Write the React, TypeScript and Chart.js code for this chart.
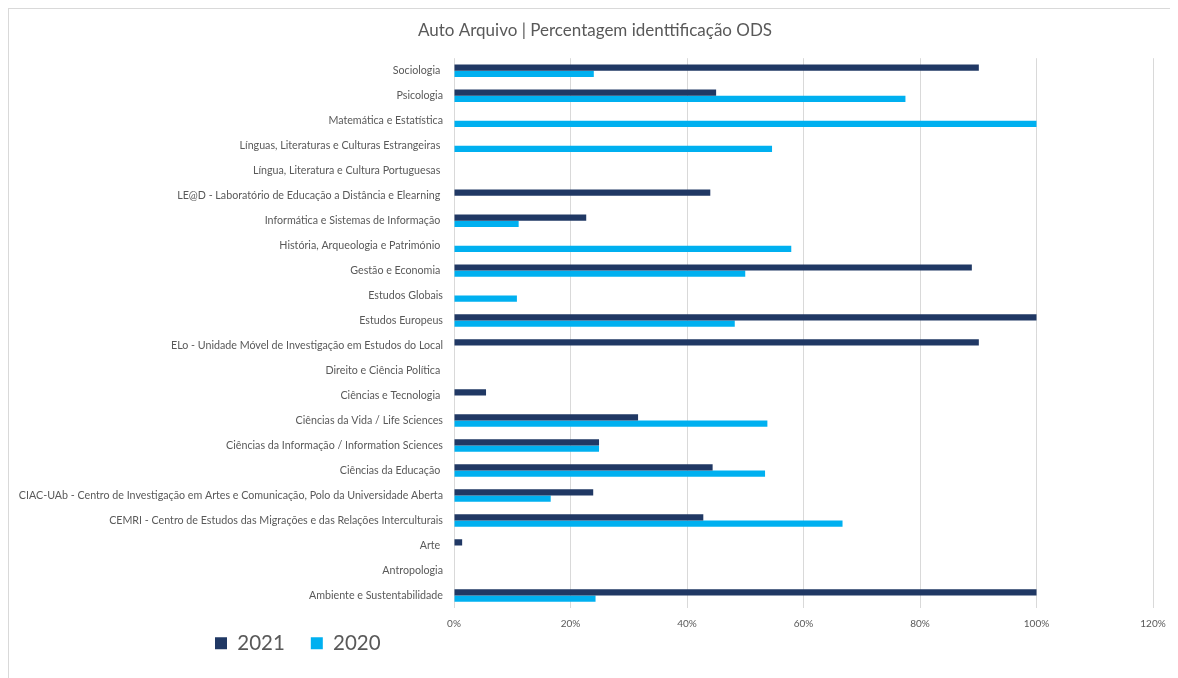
import React, { useEffect, useRef } from "react";
import { Chart, registerables } from "chart.js";

Chart.register(...registerables);

const categories: string[] = [
  "Sociologia ",
  "Psicologia",
  "Matemática e Estatística",
  "Línguas, Literaturas e Culturas Estrangeiras ",
  "Língua, Literatura e Cultura Portuguesas ",
  "LE@D - Laboratório de Educação a Distância e Elearning ",
  "Informática e Sistemas de Informação ",
  "História, Arqueologia e Património ",
  "Gestão e Economia ",
  "Estudos Globais",
  "Estudos Europeus",
  "ELo - Unidade Móvel de Investigação em Estudos do Local",
  "Direito e Ciência Política ",
  "Ciências e Tecnologia ",
  "Ciências da Vida / Life Sciences",
  "Ciências da Informação / Information Sciences",
  "Ciências da Educação ",
  "CIAC-UAb - Centro de Investigação em Artes e Comunicação, Polo da Universidade Aberta",
  "CEMRI - Centro de Estudos das Migrações e das Relações Interculturais",
  "Arte ",
  "Antropologia",
  "Ambiente e Sustentabilidade",
];

const values2021: (number | null)[] = [
  90.1, 45.0, null, null, null, 44.0, 22.7, null, 88.9, null, 100,
  90.1, null, 5.5, 31.6, 24.9, 44.4, 23.9, 42.8, 1.4, null, 100,
];

const values2020: (number | null)[] = [
  24.0, 77.5, 100, 54.6, null, null, 11.1, 57.9, 50.0, 10.8, 48.2,
  null, null, null, 53.8, 24.9, 53.4, 16.6, 66.7, null, null, 24.3,
];

const seriesNames = ["2021", "2020"];
const xTicks = [0, 20, 40, 60, 80, 100, 120];

const FONT = "Lato, 'Open Sans', sans-serif";
const TEXT = "#595959";

const boxShift = {
  id: "boxShift",
  afterLayout(chart: any) {
    const l = chart.legend;
    if (l) {
      const pad = l.options.labels.padding;
      const w = l.width;
      l.left = 206 - pad;
      l.right = l.left + w;
      l.top = 634 - pad - 10;
      l.bottom = l.top + 80;
    }
    const t = chart.titleBlock;
    if (t) {
      t.left += 14;
      t.right += 14;
    }
  },
};

export default function App() {
  const ref = useRef<HTMLCanvasElement | null>(null);

  useEffect(() => {
    document.body.style.overflow = "hidden";
    if (!ref.current) return;
    const chart = new Chart(ref.current, {
      type: "bar",
      data: {
        labels: categories,
        datasets: [
          {
            label: seriesNames[0],
            data: values2021,
            backgroundColor: "#203864",
            borderWidth: 0,
            categoryPercentage: 0.5,
            barPercentage: 1,
          },
          {
            label: seriesNames[1],
            data: values2020,
            backgroundColor: "#00B0F0",
            borderWidth: 0,
            categoryPercentage: 0.5,
            barPercentage: 1,
          },
        ],
      },
      plugins: [boxShift],
      options: {
        indexAxis: "y",
        animation: false,
        responsive: true,
        maintainAspectRatio: false,
        layout: { padding: { left: 0, right: 25, top: 0, bottom: 9 } },
        plugins: {
          title: {
            display: true,
            text: "Auto Arquivo | Percentagem identtificação ODS",
            color: TEXT,
            font: { family: FONT, size: 17, weight: "normal" },
            padding: { top: 11.8, bottom: 17.0 },
          },
          legend: {
            display: true,
            position: "bottom",
            align: "start",
            maxHeight: 36,
            labels: {
              color: TEXT,
              font: { family: FONT, size: 20.5 },
              boxWidth: 12,
              boxHeight: 12,
              padding: 26,
            },
          },
          tooltip: { enabled: false },
        },
        scales: {
          x: {
            type: "linear",
            min: 0,
            max: 120,
            afterBuildTicks: (scale: any) => {
              scale.ticks = xTicks.map((v) => ({ value: v }));
            },
            afterFit: (scale: any) => {
              scale.height = 26;
              scale.paddingLeft = 0;
              scale.paddingRight = 0;
            },
            grid: { color: "#d9d9d9", lineWidth: 1, drawTicks: false },
            border: { display: false },
            ticks: {
              color: TEXT,
              font: { family: FONT, size: 10 },
              padding: 10,
              callback: (v: any) => `${v}%`,
            },
          },
          y: {
            type: "category",
            afterFit: (scale: any) => {
              scale.width = 445;
              scale.paddingTop = 0;
              scale.paddingBottom = 0;
            },
            grid: { display: false, drawTicks: false },
            border: { display: false },
            ticks: {
              color: TEXT,
              font: { family: FONT, size: 10.7 },
              padding: 11,
              autoSkip: false,
            },
          },
        },
      },
    });
    return () => chart.destroy();
  }, []);

  return (
    <div
      style={{
        position: "relative",
        width: 1169,
        height: 670,
        borderTop: "1px solid #d9d9d9",
        borderLeft: "1px solid #d9d9d9",
        background: "#ffffff",
      }}
    >
      <canvas ref={ref} />
    </div>
  );
}
